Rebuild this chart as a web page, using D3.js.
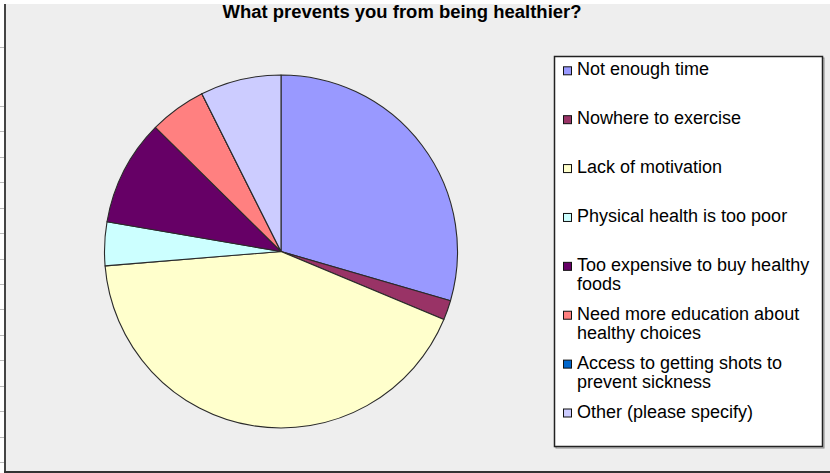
<!DOCTYPE html>
<html>
<head>
<meta charset="utf-8">
<script src="https://cdn.jsdelivr.net/npm/d3@7/dist/d3.min.js"></script>
<style>
  html, body { margin: 0; padding: 0; background: #ffffff; }
  svg { display: block; }
  text { font-family: Arial, "Liberation Sans", sans-serif; }
</style>
</head>
<body>
<svg id="chart" width="830" height="473"></svg>
<script>
// Survey responses: share of answers (%) per reason
const categories = [
  "Not enough time",
  "Nowhere to exercise",
  "Lack of motivation",
  "Physical health is too poor",
  "Too expensive to buy healthy foods",
  "Need more education about healthy choices",
  "Access to getting shots to prevent sickness",
  "Other (please specify)"
];
const values = [29.5, 1.8, 42.4, 4.0, 9.7, 5.2, 0, 7.4];
// Legend text, broken into the lines it is drawn on
const legendLines = [
  ["Not enough time"],
  ["Nowhere to exercise"],
  ["Lack of motivation"],
  ["Physical health is too poor"],
  ["Too expensive to buy healthy", "foods"],
  ["Need more education about", "healthy choices"],
  ["Access to getting shots to", "prevent sickness"],
  ["Other (please specify)"]
];
const colors = ["#9999FF", "#993366", "#FFFFCC", "#CCFFFF", "#660066", "#FF8080", "#0066CC", "#CCCCFF"];
const title = "What prevents you from being healthier?";

const svg = d3.select("#chart");

// Chart area background and frame
svg.append("rect").attr("x", 0).attr("y", 0).attr("width", 830).attr("height", 473).attr("fill", "#ffffff");
svg.append("rect").attr("x", 5).attr("y", 4).attr("width", 825).attr("height", 467).attr("fill", "#eeeeee");
svg.append("line").attr("x1", 5).attr("x2", 5).attr("y1", 4).attr("y2", 473)
  .attr("stroke", "#444").attr("stroke-width", 2);
svg.append("line").attr("x1", 4).attr("x2", 830).attr("y1", 472).attr("y2", 472)
  .attr("stroke", "#333").attr("stroke-width", 2);

// Sheet row marks along the left edge
const rowMarks = [47].concat(d3.range(15).map(i => 106 + i * 25.43));
svg.append("g").selectAll("line").data(rowMarks).join("line")
  .attr("x1", 0).attr("x2", 4).attr("y1", d => Math.round(d) + 0.5).attr("y2", d => Math.round(d) + 0.5)
  .attr("stroke", "#bbbbbb").attr("stroke-width", 1);

// Title
svg.append("text")
  .attr("x", 222.5).attr("y", 17.5)
  .attr("textLength", 359).attr("lengthAdjust", "spacingAndGlyphs")
  .attr("font-size", 18).attr("font-weight", "bold").attr("fill", "#000")
  .text(title);

// Pie
const cx = 281, cy = 251.5, radius = 176.5;
const pie = d3.pie().sort(null).value(d => d)(values);
const arc = d3.arc().innerRadius(0).outerRadius(radius);
const pieG = svg.append("g").attr("transform", `translate(${cx},${cy})`);
pieG.selectAll("path").data(pie).join("path")
  .attr("d", arc)
  .attr("fill", (d, i) => colors[i])
  .attr("stroke", "#2a2a2a").attr("stroke-width", 1.1)
  .attr("stroke-linejoin", "round");

// Legend
const lgX = 554.5, lgY = 56.5, lgW = 268, lgH = 390;
svg.append("rect").attr("x", lgX + 1.5).attr("y", lgY + 1.5).attr("width", lgW).attr("height", lgH)
  .attr("fill", "none").attr("stroke", "#888").attr("stroke-width", 1);
svg.append("rect").attr("x", lgX).attr("y", lgY).attr("width", lgW).attr("height", lgH)
  .attr("fill", "#ffffff").attr("stroke", "#222").attr("stroke-width", 1.5);

const rowY = d3.scalePoint().domain(d3.range(categories.length)).range([75.3, 417.5]);
const legend = svg.append("g").selectAll("g").data(categories).join("g")
  .attr("transform", (d, i) => `translate(0,${rowY(i)})`);
legend.append("rect")
  .attr("x", 563.5).attr("y", -8.5).attr("width", 8).attr("height", 8)
  .attr("fill", (d, i) => colors[i]).attr("stroke", "#111").attr("stroke-width", 1);
legend.each(function (d, i) {
  const t = d3.select(this).append("text")
    .attr("x", 577).attr("y", 0)
    .attr("font-size", 18).attr("fill", "#000");
  legendLines[i].forEach((line, j) => {
    t.append("tspan").attr("x", 577).attr("dy", j === 0 ? 0 : 19.5).text(line);
  });
});
</script>
</body>
</html>
